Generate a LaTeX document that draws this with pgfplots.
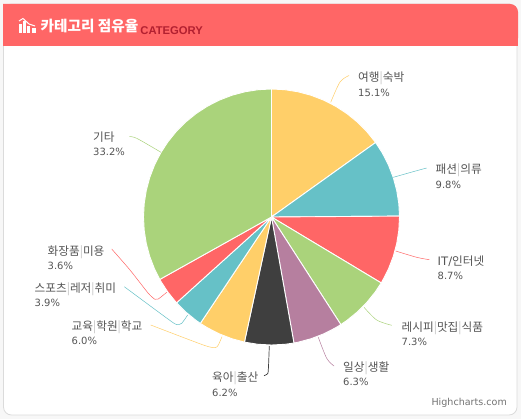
\documentclass[border=0pt]{standalone}
\usepackage{pgfplots}
\pgfplotsset{compat=1.18}
\usepackage{fontspec}
\setmainfont{Noto Sans CJK KR}
\newfontfamily\lat{DejaVu Sans}
\newfontfamily\arial{Liberation Sans}
\definecolor{cyel}{HTML}{FFCF69}
\definecolor{cteal}{HTML}{66C1C7}
\definecolor{cred}{HTML}{FF6666}
\definecolor{cgrn}{HTML}{AAD37B}
\definecolor{cpur}{HTML}{B67F9F}
\definecolor{cdrk}{HTML}{3F3F3F}
\definecolor{ctxt}{HTML}{555555}
\definecolor{cb}{HTML}{B22030}
\newcommand{\sep}{\textcolor{black!25}{|}}
\newcommand{\lab}[4]{\node[anchor=base west,inner sep=0pt,text=ctxt,font=\fontsize{11.7}{12}\selectfont] at (axis cs:#1,#2) {#3};
  \node[anchor=base west,inner sep=0pt,text=ctxt,font=\lat\fontsize{10}{12}\selectfont] at (axis cs:#1,#2+14.5) {#4};}
\begin{document}
\begin{tikzpicture}
\begin{axis}[
  at={(0,0)},anchor=south west,
  scale only axis,width=521bp,height=419bp,
  xmin=0,xmax=521,ymin=0,ymax=419,y dir=reverse,
  hide axis,clip=false,
  every axis plot/.append style={mark=none},
  slice/.style={draw=white,line width=0.9pt,yshift=-1bp},
  conn/.style={line width=0.5pt,smooth}]
% page and card
\fill[black!3] (axis cs:0,0) rectangle (axis cs:521,419);
\draw[fill=white,draw=black!14,line width=0.8pt,rounded corners=8bp] (axis cs:3.5,4) rectangle (axis cs:517,415);
\fill[cred,rounded corners=8bp] (axis cs:3,4) -- (axis cs:518,4) -- (axis cs:518,46) -- (axis cs:3,46) [sharp corners] -- cycle;
\fill[cred] (axis cs:3,30) rectangle (axis cs:518,46);
% icon
\fill[white] (axis cs:18.5,24) rectangle (axis cs:21.5,33.5);
\fill[white] (axis cs:22.5,21) rectangle (axis cs:25.5,33.5);
\fill[white] (axis cs:27,26) rectangle (axis cs:30,33.5);
\fill[white] (axis cs:31.5,28) rectangle (axis cs:36,33.5);
\draw[white,line width=1pt] (axis cs:19,21) -- (axis cs:23,18.5) -- (axis cs:29,24) -- (axis cs:35,26);
\node[anchor=base west,inner sep=0pt,text=white,font=\bfseries\fontsize{14.7}{16}\selectfont] at (axis cs:40.5,31.5) {카테고리 점유율};
\node[anchor=base west,inner sep=0pt,text=cb,font=\arial\bfseries\fontsize{11.3}{12}\selectfont] at (axis cs:140.2,34.5) {CATEGORY};
% slices
\addplot[fill=cyel,slice] coordinates {(271.5,216)(271.5,88)(284.88,88.70)(298.11,90.80)(311.05,94.26)(323.56,99.07)(335.5,105.15)(346.74,112.45)(357.15,120.88)(366.62,130.35)(375.05,140.76)(375.58,141.49)} --cycle;
\addplot[fill=cteal,slice] coordinates {(271.5,216)(375.58,141.49)(382.35,152)(388.43,163.94)(393.24,176.45)(396.70,189.39)(398.80,202.62)(399.5,215.11)} --cycle;
\addplot[fill=cred,slice] coordinates {(271.5,216)(399.5,215.11)(399.5,216)(398.80,229.38)(396.70,242.61)(393.24,255.55)(388.43,268.06)(382.35,280)(381.22,281.93)} --cycle;
\addplot[fill=cgrn,slice] coordinates {(271.5,216)(381.22,281.93)(375.05,291.24)(366.62,301.65)(357.15,311.12)(346.74,319.55)(340.84,323.59)} --cycle;
\addplot[fill=cpur,slice] coordinates {(271.5,216)(340.84,323.59)(335.5,326.85)(323.56,332.93)(311.05,337.74)(298.11,341.20)(293.95,342.02)} --cycle;
\addplot[fill=cdrk,slice] coordinates {(271.5,216)(293.95,342.02)(284.88,343.30)(271.5,344)(258.12,343.30)(244.89,341.20)(244.45,341.11)} --cycle;
\addplot[fill=cyel,slice] coordinates {(271.5,216)(244.45,341.11)(231.95,337.74)(219.44,332.93)(207.5,326.85)(200.29,322.37)} --cycle;
\addplot[fill=cteal,slice] coordinates {(271.5,216)(200.29,322.37)(196.26,319.55)(185.85,311.12)(176.53,301.82)} --cycle;
\addplot[fill=cred,slice] coordinates {(271.5,216)(176.53,301.82)(167.95,291.24)(160.65,280)(159.77,278.45)} --cycle;
\addplot[fill=cgrn,slice] coordinates {(271.5,216)(159.77,278.45)(154.57,268.06)(149.76,255.55)(146.30,242.61)(144.20,229.38)(143.5,216)(144.20,202.62)(146.30,189.39)(149.76,176.45)(154.57,163.94)(160.65,152)(167.95,140.76)(176.38,130.35)(185.85,120.88)(196.26,112.45)(207.5,105.15)(219.44,99.07)(231.95,94.26)(244.89,90.80)(258.12,88.70)(271.5,88)} --cycle;
% connectors
\addplot[cyel,conn] coordinates {(330.7,102.3)(340,82)(349,75.5)};
\addplot[cteal,conn] coordinates {(393.3,177.3)(416.7,170.7)(426.7,168)};
\addplot[cred,conn] coordinates {(395.7,251)(416.7,257.3)(429.3,259.7)};
\addplot[cgrn,conn] coordinates {(364,307.3)(376.7,320)(391.7,325.3)};
\addplot[cpur,conn] coordinates {(318.3,337.3)(326.7,358.3)(334,366)};
\addplot[cdrk,conn,line width=0.7pt] coordinates {(269.3,346)(268.3,370)(267.3,374)(264,375.7)};
\addplot[cyel,conn,tension=0.4] coordinates {(222,336.7)(218.3,345)(215,347.7)(203.3,345)(150.7,325)};
\addplot[cteal,conn,tension=0.4] coordinates {(187.7,315)(181.7,323.3)(177.7,324.3)(171.7,321.7)(124.3,286.7)};
\addplot[cred,conn,tension=0.4] coordinates {(166.7,292.3)(158.3,299)(155,299.3)(148.3,293.3)(130,270)(111.7,249)};
\addplot[cgrn,conn] coordinates {(161,152.3)(136.7,138.3)(129.3,136.7)};
% labels
\lab{358}{81.5}{여행\sep 숙박}{15.1\%}
\lab{435.5}{173.5}{패션\sep 의류}{9.8\%}
\lab{437.5}{265}{{\lat IT/}인터넷}{8.7\%}
\lab{401.5}{331}{레시피\sep 맛집\sep 식품}{7.3\%}
\lab{343}{371}{일상\sep 생활}{6.3\%}
\lab{212}{381.5}{육아\sep 출산}{6.2\%}
\lab{71.5}{330}{교육\sep 학원\sep 학교}{6.0\%}
\lab{34.5}{292}{스포츠\sep 레저\sep 취미}{3.9\%}
\lab{47.5}{255}{화장품\sep 미용}{3.6\%}
\lab{93}{141}{기타}{33.2\%}
\node[anchor=base east,inner sep=0pt,text=black!55,font=\lat\fontsize{9.6}{10}\selectfont] at (axis cs:507,405.5) {Highcharts.com};
\end{axis}
\end{tikzpicture}
\end{document}
